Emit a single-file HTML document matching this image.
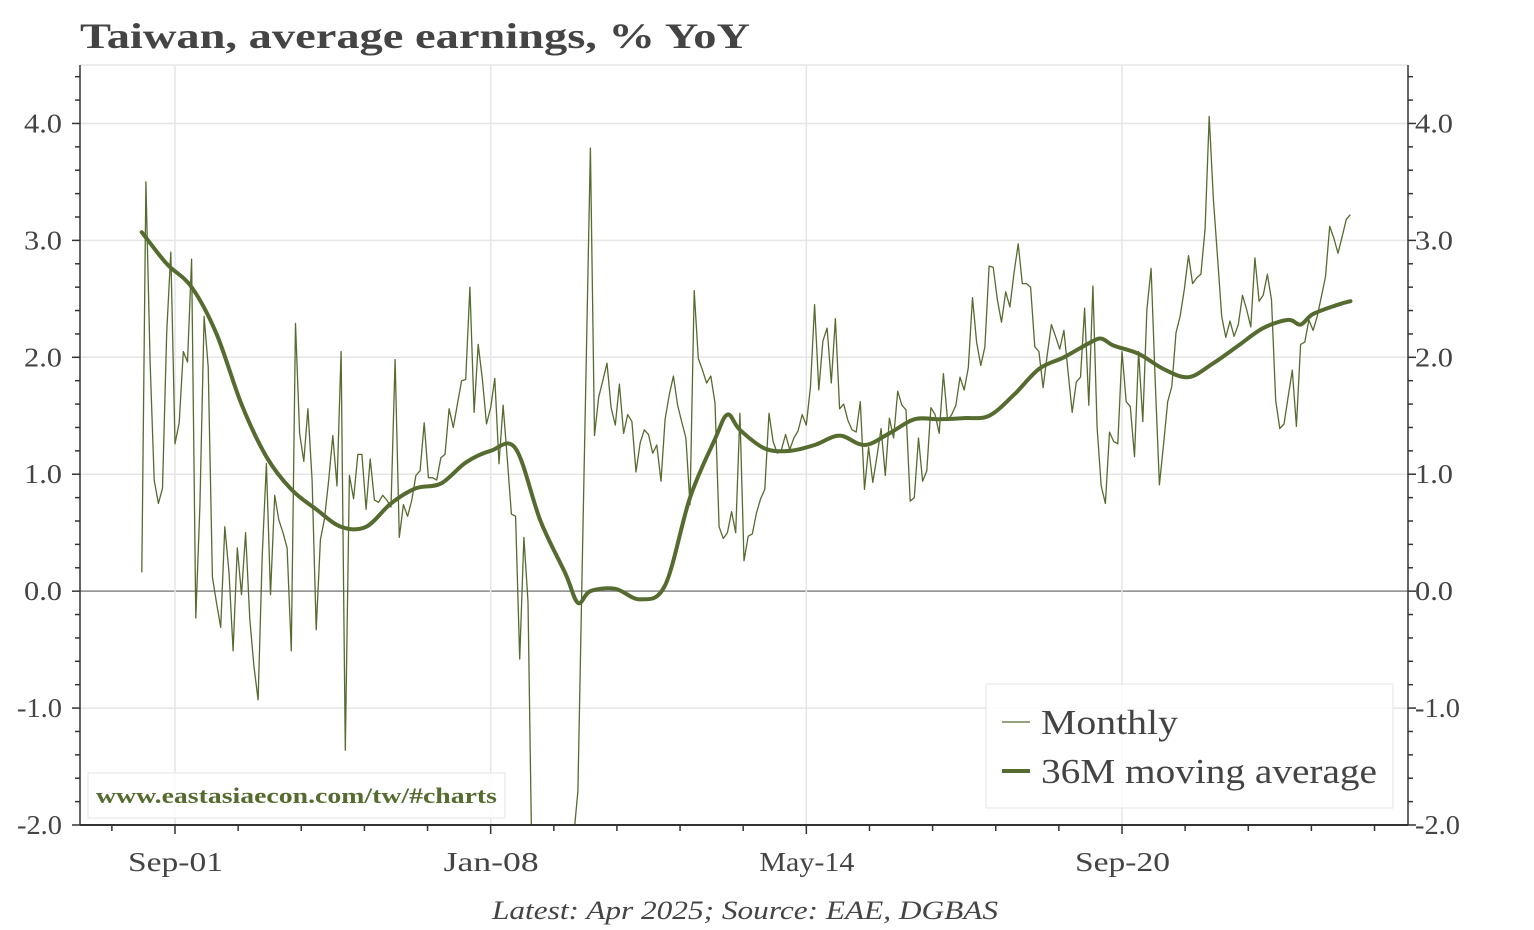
<!DOCTYPE html>
<html><head><meta charset="utf-8"><style>
html,body{margin:0;background:#fff;overflow:hidden;width:1534px;height:930px;}
svg{display:block;font-family:"Liberation Serif",serif;}
</style></head><body>
<svg id="chart" width="1534" height="930" xmlns="http://www.w3.org/2000/svg">
<text x="80" y="48" font-size="36" font-weight="bold" fill="#444" textLength="670" lengthAdjust="spacingAndGlyphs">Taiwan, average earnings, % YoY</text>
<text x="492" y="919" font-size="26" font-style="italic" fill="#444" textLength="506" lengthAdjust="spacingAndGlyphs">Latest: Apr 2025; Source: EAE, DGBAS</text>
<g id="grid"></g>
<g id="series"></g>
<g id="axes"></g>
<g>
<rect x="88" y="773" width="417" height="45" fill="#fff" fill-opacity="0.85" stroke="#e4e4e4"/>
<text x="96" y="803" font-size="22" font-weight="bold" fill="#556b2f" textLength="401" lengthAdjust="spacingAndGlyphs">www.eastasiaecon.com/tw/#charts</text>
</g>
<g>
<rect x="986" y="684" width="407" height="124" fill="#fff" fill-opacity="0.85" stroke="#e4e4e4"/>
<g>
<line x1="1002" y1="722" x2="1030" y2="722" stroke="#556b2f" stroke-width="1.3"/>
<text x="1041" y="734" font-size="35" fill="#444" textLength="137" lengthAdjust="spacingAndGlyphs">Monthly</text></g>
<g>
<line x1="1002" y1="771" x2="1030" y2="771" stroke="#556b2f" stroke-width="4"/>
<text x="1041" y="783" font-size="35" fill="#444" textLength="336" lengthAdjust="spacingAndGlyphs">36M moving average</text></g>
</g>
</svg>
<script>
// Monthly % YoY, Jan 2001 .. Apr 2025
const monthly = [
0.16,3.5,1.96,0.95,0.75,0.88,2.21,2.9,1.26,1.44,2.05,1.96,
2.84,-0.23,0.73,2.35,1.92,0.12,-0.1,-0.31,0.55,0.16,-0.51,0.37,
-0.03,0.5,-0.24,-0.64,-0.93,0.3,1.09,-0.03,0.82,0.61,0.5,0.37,
-0.51,2.29,1.35,1.11,1.56,0.95,-0.33,0.44,0.62,0.95,1.33,0.9,
2.05,-1.36,0.99,0.79,1.17,1.17,0.7,1.13,0.78,0.76,0.82,0.78,
0.72,1.98,0.46,0.74,0.64,0.78,0.99,1.03,1.44,0.97,0.97,0.95,
1.14,1.17,1.56,1.4,1.6,1.8,1.81,2.6,1.53,2.11,1.81,1.43,
1.57,1.82,1.09,1.59,1.13,0.66,0.64,-0.58,0.46,-0.09,-2.5,-3.5,
-4,-4,-4,-4,-3.5,-3,-2.8,-2.5,-2.1,-1.71,0.12,1.95,
3.79,1.33,1.66,1.8,1.95,1.57,1.42,1.77,1.35,1.51,1.45,1.02,
1.27,1.38,1.34,1.18,1.25,0.94,1.47,1.68,1.84,1.59,1.45,1.31,
0.74,2.57,1.99,1.89,1.78,1.84,1.61,0.55,0.45,0.5,0.68,0.5,
1.52,0.26,0.47,0.49,0.67,0.79,0.87,1.52,1.28,1.18,1.21,1.34,
1.21,1.31,1.37,1.51,1.42,1.75,2.45,1.72,2.14,2.25,1.78,2.33,
1.56,1.6,1.46,1.38,1.36,1.62,0.87,1.23,0.93,1.15,1.39,0.99,
1.48,1.31,1.71,1.59,1.55,0.77,0.8,1.31,0.94,1.03,1.57,1.51,
1.35,1.86,1.46,1.51,1.59,1.83,1.72,1.91,2.51,2.13,1.93,2.09,
2.78,2.77,2.49,2.3,2.56,2.43,2.72,2.97,2.63,2.63,2.6,2.09,
2.05,1.74,2.02,2.28,2.18,2.07,2.23,1.88,1.53,1.79,1.83,2.42,
1.59,2.61,1.4,0.9,0.75,1.36,1.28,1.26,2.05,1.62,1.58,1.15,
2.05,1.45,2.41,2.76,1.8,0.91,1.25,1.62,1.75,2.21,2.35,2.58,
2.87,2.63,2.68,2.71,3.1,4.06,3.35,2.86,2.35,2.17,2.31,2.18,
2.28,2.53,2.41,2.26,2.85,2.48,2.53,2.71,2.49,1.63,1.39,1.43,
1.66,1.89,1.41,2.11,2.13,2.32,2.23,2.35,2.52,2.69,3.12,3.02,
2.89,3.03,3.18,3.22];
// 36M moving average readings (month index from Jan 2001, value)
const maMonths = [0,6,12,18,24,30,36,42,48,54,60,66,72,78,84,90,96,102,105,108,114,120,126,132,138,141,144,150,156,162,168,174,180,186,192,198,204,210,216,222,228,231,234,240,246,252,258,264,270,276,279,282,288,291];
const maValues = [3.07,2.8,2.6,2.2,1.6,1.15,0.87,0.7,0.55,0.55,0.75,0.88,0.92,1.1,1.2,1.22,0.6,0.15,-0.1,0.0,0.02,-0.07,0.05,0.8,1.3,1.51,1.38,1.22,1.2,1.25,1.33,1.25,1.35,1.47,1.47,1.48,1.5,1.68,1.9,2.0,2.12,2.16,2.1,2.03,1.9,1.83,1.95,2.1,2.25,2.32,2.28,2.37,2.45,2.48];
const yTicks = [-2,-1,0,1,2,3,4];
const xLabels = ["Sep-01","Jan-08","May-14","Sep-20"];
const xLabelMonths = [8,84,160,236];

const NS="http://www.w3.org/2000/svg";
const L=80,R=1408,T=65,B=825,YMIN=-2,YMAX=4.5;
const x=i=>175+(i-8)*947/228;
const y=v=>B-(v-YMIN)*(B-T)/(YMAX-YMIN);
function mk(tag,attrs,parent){const e=document.createElementNS(NS,tag);for(const k in attrs)e.setAttribute(k,attrs[k]);parent.appendChild(e);return e;}
const grid=document.getElementById('grid'),axes=document.getElementById('axes'),ser=document.getElementById('series');
const defs=mk('defs',{},document.getElementById('chart'));
const cp=mk('clipPath',{id:'pc'},defs);mk('rect',{x:L,y:T,width:R-L,height:B-T},cp);
ser.setAttribute('clip-path','url(#pc)');
mk('line',{x1:L,y1:T,x2:R,y2:T,stroke:'#e6e6e6','stroke-width':1.5},grid);
yTicks.forEach(v=>{
  const g=mk('line',{x1:L,y1:y(v),x2:R,y2:y(v),stroke:v===0?'#888':'#e6e6e6','stroke-width':1.5},grid);
  
  
  const s=v.toFixed(1);const w=s.length>3?45:38;
  const t1=mk('text',{x:62-w,y:y(v)+9,'font-size':27,fill:'#444',textLength:w,lengthAdjust:'spacingAndGlyphs'},axes);
  t1.textContent=s;
  
  
  const t2=mk('text',{x:R+7,y:y(v)+9,'font-size':27,fill:'#444',textLength:w,lengthAdjust:'spacingAndGlyphs'},axes);
  t2.textContent=s;
  
  
});
for(let v=-2;v<=4.41;v+=0.2){
  const major=Math.abs(v-Math.round(v))<0.01;const len=major?8:5;
  mk('line',{x1:L-len,y1:y(v),x2:L,y2:y(v),stroke:'#333','stroke-width':1.5},axes);
  mk('line',{x1:R,y1:y(v),x2:R+len,y2:y(v),stroke:'#333','stroke-width':1.5},axes);
}
xLabelMonths.forEach((m,k)=>{
  const g=mk('line',{x1:x(m),y1:T,x2:x(m),y2:B,stroke:'#e6e6e6','stroke-width':1.5},grid);
  
  
  const t=mk('text',{x:x(m)-47,y:B+46,'font-size':27,fill:'#444',textLength:95,lengthAdjust:'spacingAndGlyphs'},axes);
  t.textContent=xLabels[k];
  
  
});
for(let m=8-15.2;m<300;m+=15.2){
  const xx=x(m);if(xx<L||xx>R)continue;
  const major=xLabelMonths.some(q=>Math.abs(q-m)<0.5);
  mk('line',{x1:xx,y1:B,x2:xx,y2:B+(major?9:6),stroke:'#333','stroke-width':1.5},axes);
}
mk('line',{x1:L,y1:T,x2:L,y2:B,stroke:'#333','stroke-width':1.5},axes);
mk('line',{x1:R,y1:T,x2:R,y2:B,stroke:'#333','stroke-width':1.5},axes);
mk('line',{x1:L,y1:B,x2:R,y2:B,stroke:'#333','stroke-width':2},axes);
const p1=mk('path',{d:monthly.map((v,i)=>(i?'L':'M')+x(i).toFixed(1)+','+y(v).toFixed(1)).join(''),fill:'none',stroke:'#556b2f','stroke-width':1.3,'stroke-linejoin':'round'},ser);


const pts=maMonths.map((m,i)=>[x(m),y(maValues[i])]);
let d='M'+pts[0][0]+','+pts[0][1];
for(let i=0;i<pts.length-1;i++){
  const p0=pts[Math.max(0,i-1)],a=pts[i],b=pts[i+1],p3=pts[Math.min(pts.length-1,i+2)];
  const c1=[a[0]+(b[0]-p0[0])/6,a[1]+(b[1]-p0[1])/6],c2=[b[0]-(p3[0]-a[0])/6,b[1]-(p3[1]-a[1])/6];
  d+='C'+c1.join(',')+' '+c2.join(',')+' '+b.join(',');
}
const p2=mk('path',{d:d,fill:'none',stroke:'#556b2f','stroke-width':4,'stroke-linejoin':'round','stroke-linecap':'round'},ser);


</script>
</body></html>
